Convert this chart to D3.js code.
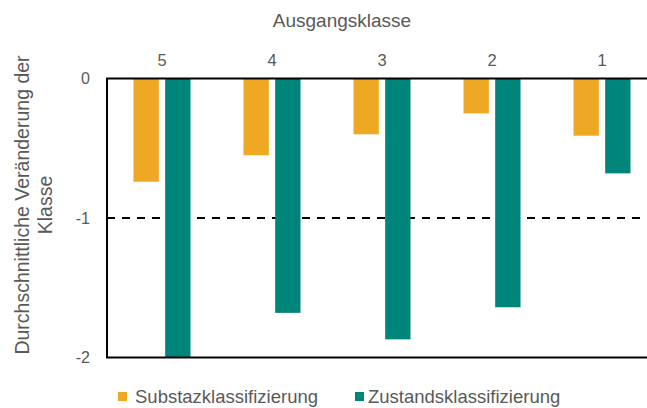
<!DOCTYPE html>
<html>
<head>
<meta charset="utf-8">
<script src="https://cdn.jsdelivr.net/npm/d3@7/dist/d3.min.js"></script>
<style>
  html, body { margin: 0; padding: 0; background: #fff; }
  svg { display: block; font-family: "Liberation Sans", Arial, sans-serif; }
</style>
</head>
<body>
<svg id="chart" width="647" height="408"></svg>
<script>
// Ausgangsklassen (top axis, reversed order)
const classes = ["5", "4", "3", "2", "1"];
const seriesNames = ["Substazklassifizierung", "Zustandsklassifizierung"];
const seriesColors = ["#EFA823", "#00857A"];
// Durchschnittliche Veränderung der Klasse je Ausgangsklasse
const substanzValues = [-0.74, -0.55, -0.40, -0.25, -0.41];
const zustandValues = [-2.00, -1.68, -1.87, -1.64, -0.68];
const yTicks = [0, -1, -2];
const referenceLevel = -1;

const svg = d3.select("#chart");
const textColor = "#595959";

const plot = { left: 107, right: 657, top: 78.5, bottom: 357.5 };

const x = d3.scaleBand().domain(classes).range([plot.left, plot.right]);
const xInner = d3.scaleBand().domain(seriesNames).range([-28.5, 28.5]).paddingInner(0.2);
const y = d3.scaleLinear().domain([-2, 0]).range([plot.bottom, plot.top]);

const rows = classes.map((c, i) => ({ cls: c, values: [substanzValues[i], zustandValues[i]] }));

// dashed reference line at -1 (behind the bars)
svg.append("line")
  .attr("x1", plot.left).attr("x2", plot.right)
  .attr("y1", y(referenceLevel)).attr("y2", y(referenceLevel))
  .attr("stroke", "#000").attr("stroke-width", 2)
  .attr("stroke-dasharray", "8,7");

// bars
const groups = svg.append("g").selectAll("g")
  .data(rows).join("g")
  .attr("transform", d => `translate(${x(d.cls) + x.bandwidth() / 2},0)`);

groups.selectAll("rect")
  .data(d => d.values.map((v, k) => ({ v, k })))
  .join("rect")
  .attr("x", d => xInner(seriesNames[d.k]))
  .attr("width", xInner.bandwidth())
  .attr("y", d => y(Math.max(0, d.v)))
  .attr("height", d => Math.abs(y(d.v) - y(0)))
  .attr("fill", d => seriesColors[d.k]);

// frame: top (zero line), left and bottom
const frame = svg.append("g").attr("stroke", "#000").attr("stroke-width", 2).attr("fill", "none");
frame.append("line").attr("x1", plot.left - 1).attr("x2", plot.right).attr("y1", y(0)).attr("y2", y(0));
frame.append("line").attr("x1", plot.left - 1).attr("x2", plot.right).attr("y1", y(-2)).attr("y2", y(-2));
frame.append("line").attr("x1", plot.left).attr("x2", plot.left).attr("y1", y(0)).attr("y2", y(-2));

// y axis labels
const yAxis = svg.append("g")
  .attr("transform", `translate(${plot.left},0)`)
  .call(d3.axisLeft(y).tickValues(yTicks).tickSize(0).tickPadding(17)
    .tickFormat(d => d3.format("d")(d).replace("\u2212", "-")));
yAxis.select(".domain").remove();
yAxis.selectAll("text").attr("fill", textColor).style("font-size", "16px")
  .style("font-family", "'Liberation Sans', Arial, sans-serif");

// top category axis
const xAxis = svg.append("g")
  .attr("transform", `translate(0,${plot.top})`)
  .call(d3.axisTop(x).tickSize(0).tickPadding(13));
xAxis.select(".domain").remove();
xAxis.selectAll("text").attr("fill", textColor).style("font-size", "16.5px")
  .style("font-family", "'Liberation Sans', Arial, sans-serif");

// top axis title
svg.append("text")
  .attr("x", 342).attr("y", 27)
  .attr("text-anchor", "middle")
  .attr("fill", textColor).style("font-size", "19px")
  .text("Ausgangsklasse");

// y axis title (two lines, rotated)
const yTitle = svg.append("text")
  .attr("transform", "translate(0,205) rotate(-90)")
  .attr("text-anchor", "middle")
  .attr("fill", textColor).style("font-size", "19.5px");
yTitle.append("tspan").attr("x", 0).attr("y", 28.5).text("Durchschnittliche Veränderung der");
yTitle.append("tspan").attr("x", 0).attr("y", 52).text("Klasse");

// legend
const legendPos = [{ x: 118 }, { x: 355 }];
const legend = svg.append("g").selectAll("g")
  .data(seriesNames).join("g")
  .attr("transform", (d, i) => `translate(${legendPos[i].x},392)`);
legend.append("rect").attr("width", 9).attr("height", 9).attr("fill", (d, i) => seriesColors[i]);
legend.append("text")
  .attr("x", (d, i) => i === 0 ? 17 : 13).attr("y", 11)
  .attr("fill", textColor).style("font-size", "18.5px")
  .text(d => d);
</script>
</body>
</html>
